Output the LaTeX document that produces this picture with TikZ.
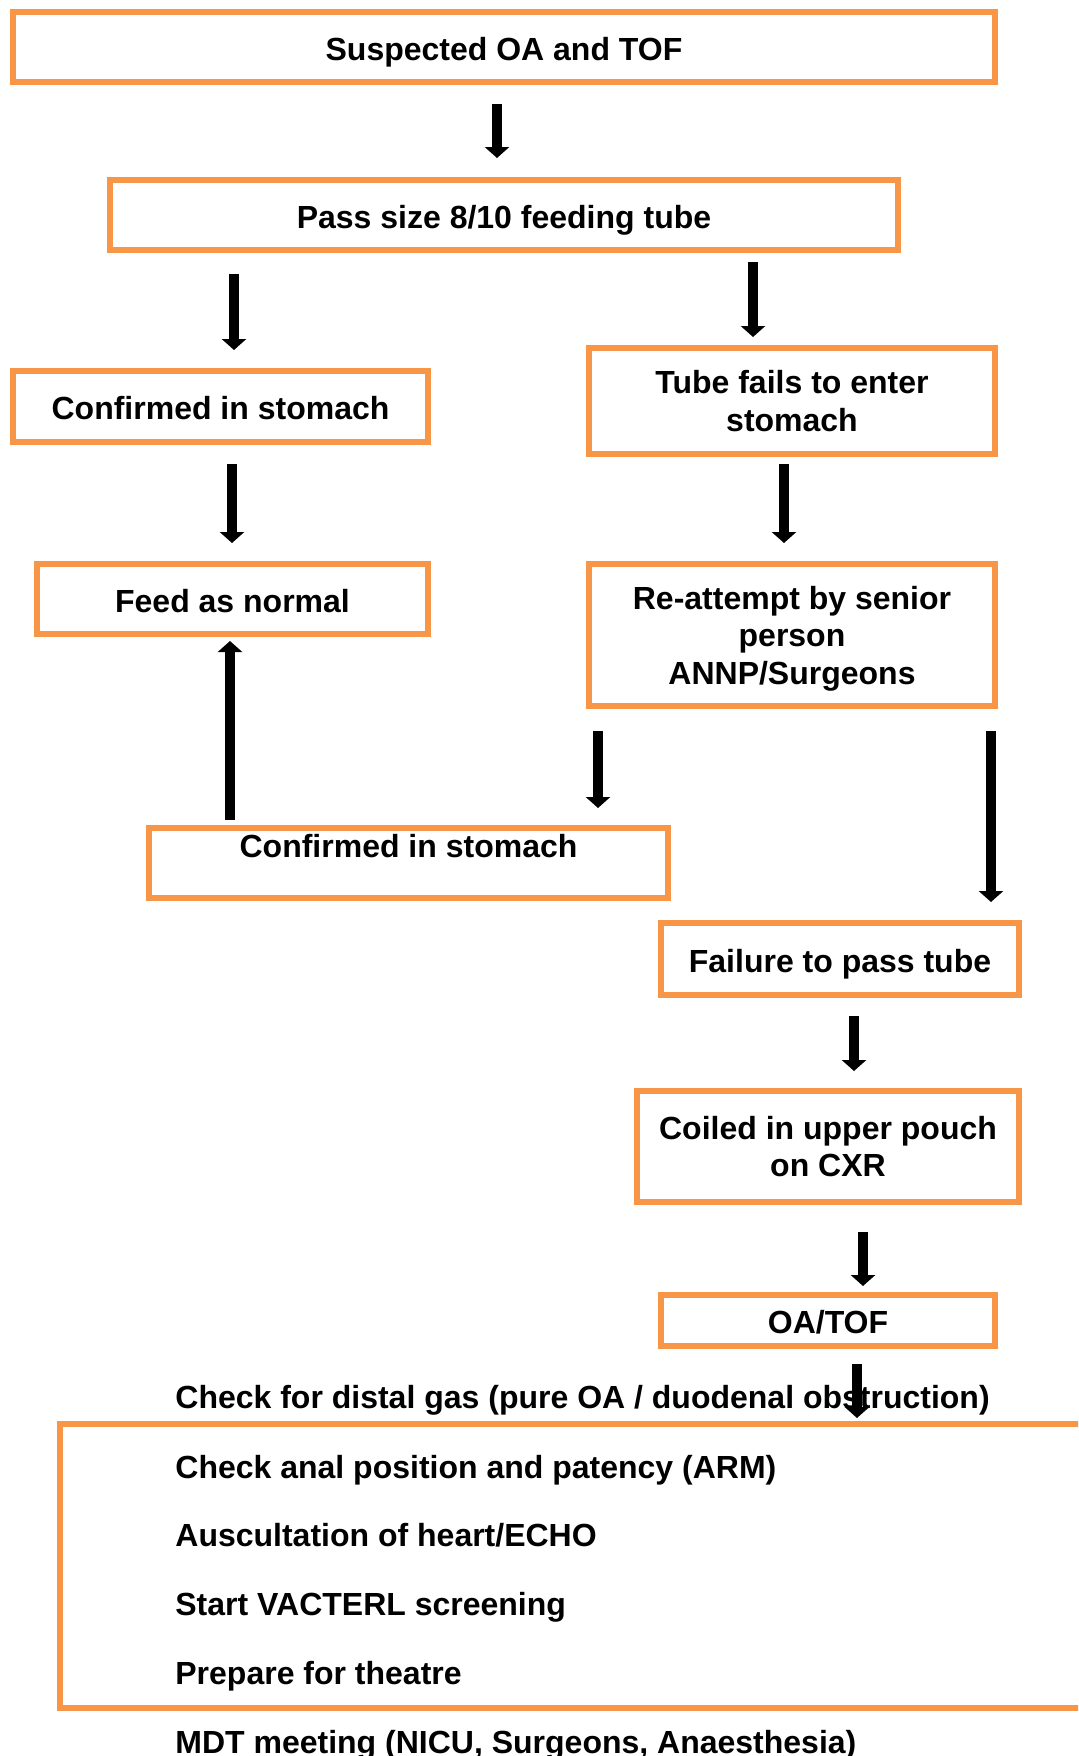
\documentclass[tikz,border=0pt]{standalone}
\usepackage{fontspec}
\setmainfont{Liberation Sans}
\usetikzlibrary{arrows.meta}
\definecolor{boxorange}{HTML}{F79646}
\begin{document}
\begin{tikzpicture}[x=0.5pt,y=-0.5pt,
  box/.style={draw=boxorange, line width=3pt, inner sep=0pt,
    font=\bfseries\fontsize{16}{18.8}\selectfont, align=center},
  one/.style={text height=13.35pt, text depth=0pt},
  flow/.style={line width=5pt, -{Triangle[width=12pt,length=5.5pt]}},
  item/.style={anchor=base west, inner sep=0pt,
    font=\bfseries\fontsize{16}{18.8}\selectfont}]
\useasboundingbox (0,0) rectangle (1078,1756);
\clip (0,0) rectangle (1078,1756);

% boxes
\node[box,one,minimum width=491pt,minimum height=35pt] (b1) at (504,47) {Suspected OA and TOF};
\node[box,one,minimum width=394pt,minimum height=35pt] (b2) at (504,215) {Pass size 8/10 feeding tube};
\node[box,one,minimum width=207.5pt,minimum height=35.5pt] (b3) at (220.5,406.5) {Confirmed in stomach};
\node[box,minimum width=203pt,minimum height=53pt] (b4) at (792,401) {Tube fails to enter\\stomach};
\node[box,one,minimum width=195.5pt,minimum height=35pt] (b5) at (232.5,599) {Feed as normal};
\node[box,text depth=0pt,minimum width=203pt,minimum height=71pt] (b6) at (792,635) {Re-attempt by senior\\person\\ANNP/Surgeons};
\node[box,text height=11.35pt,text depth=17.1pt,minimum width=259.5pt,minimum height=35.25pt] (b7) at (408.5,862.75) {Confirmed in stomach};
\node[box,one,minimum width=179pt,minimum height=35.75pt] (b8) at (840,958.75) {Failure to pass tube};
\node[box,minimum width=191pt,minimum height=55.5pt] (b9) at (828,1146.5) {Coiled in upper pouch\\on CXR};
\node[box,one,minimum width=167pt,minimum height=25.5pt] (b10) at (828,1320.5) {OA/TOF};
\node[box,minimum width=520pt,minimum height=142pt] (big) at (580,1566) {};

% list texts
\node[item] (t1) at (175,1408) {Check for distal gas (pure OA / duodenal obstruction)};
\node[item] (t2) at (175,1478) {Check anal position and patency (ARM)};
\node[item] (t3) at (175,1546) {Auscultation of heart/ECHO};
\node[item] (t4) at (175,1615) {Start VACTERL screening};
\node[item] (t5) at (175,1684) {Prepare for theatre};
\node[item] (t6) at (175,1753) {MDT meeting (NICU, Surgeons, Anaesthesia)};

% arrow end points
\coordinate (a1s) at (497,104);  \coordinate (a1e) at (497,158);
\coordinate (a2s) at (234,274);  \coordinate (a2e) at (234,350);
\coordinate (a3s) at (753,262);  \coordinate (a3e) at (753,337);
\coordinate (a4s) at (232,464);  \coordinate (a4e) at (232,543);
\coordinate (a5s) at (784,464);  \coordinate (a5e) at (784,543);
\coordinate (a6s) at (230,820);  \coordinate (a6e) at (230,641);
\coordinate (a7s) at (598,731);  \coordinate (a7e) at (598,808);
\coordinate (a8s) at (991,731);  \coordinate (a8e) at (991,902);
\coordinate (a9s) at (854,1016); \coordinate (a9e) at (854,1071);
\coordinate (a10s) at (863,1232); \coordinate (a10e) at (863,1286);
\coordinate (a11s) at (857,1364); \coordinate (a11e) at (857,1418);

\foreach \i in {1,...,11} {\draw[flow] (a\i s) -- (a\i e);}
\end{tikzpicture}
\end{document}
